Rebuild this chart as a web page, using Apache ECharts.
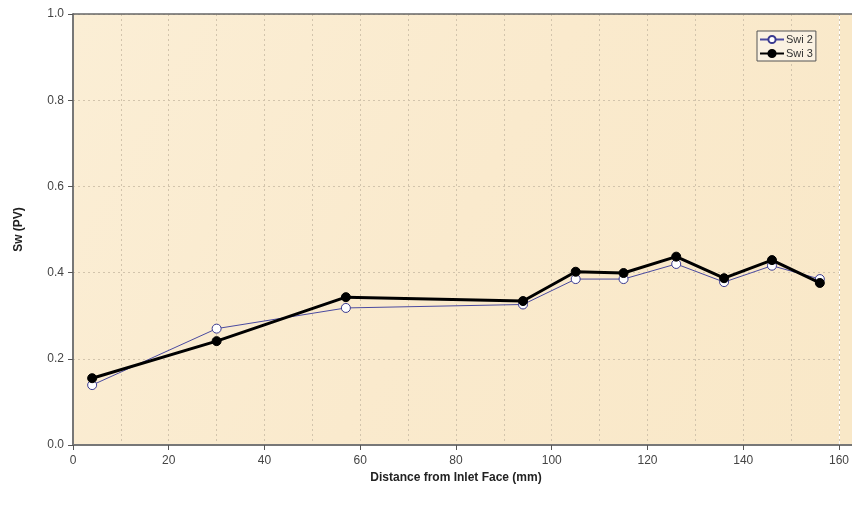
<!DOCTYPE html>
<html><head><meta charset="utf-8">
<script src="https://cdn.jsdelivr.net/npm/echarts@6/dist/echarts.min.js"></script>
<style>html,body{margin:0;padding:0;background:#fff}#c{width:852px;height:505px}</style>
</head><body><div id="c"></div>
<script>
const distance = [4, 30, 57, 94, 105, 115, 126, 136, 146, 156];
const swi2 = [0.139, 0.270, 0.318, 0.326, 0.385, 0.385, 0.420, 0.378, 0.416, 0.385];
const swi3 = [0.155, 0.241, 0.343, 0.334, 0.402, 0.399, 0.437, 0.387, 0.429, 0.376];
const xTicks = [0, 20, 40, 60, 80, 100, 120, 140, 160];
const yTicks = [0.0, 0.2, 0.4, 0.6, 0.8, 1.0];

const chart = echarts.init(document.getElementById('c'));
const font = 'Liberation Sans, Arial, sans-serif';
const bg = new echarts.graphic.LinearGradient(0, 0, 1, 1, [
  {offset: 0, color: '#fbeed5'}, {offset: 0.5, color: '#faeacd'}, {offset: 1, color: '#f9e8c8'}
]);
const gridCol = '#d2c4ac';
chart.setOption({
  animation: false,
  textStyle: {fontFamily: font},
  grid: {left: 73, right: 12, top: 14, bottom: 60, show: true, backgroundColor: bg, borderWidth: 0},
  graphic: [
    {type: 'rect', shape: {x: 840, y: 14, width: 12, height: 431}, style: {fill: '#f9e8c8'}, z: -1},
    {type: 'line', shape: {x1: 73, y1: 14, x2: 852, y2: 14}, style: {stroke: '#666', lineWidth: 1.5}, z: 10},
    {type: 'line', shape: {x1: 840, y1: 445, x2: 852, y2: 445}, style: {stroke: '#777', lineWidth: 2}, z: 10}
  ],
  legend: {
    orient: 'vertical', left: 757, top: 31, itemWidth: 24, itemHeight: 9, itemGap: 3,
    padding: [3, 3, 2, 2], borderColor: '#555', borderWidth: 1, backgroundColor: '#fbf2e2',
    textStyle: {fontSize: 11, color: '#333', fontFamily: font, padding: [0, 0, 0, -3]}
  },
  xAxis: {
    type: 'value', min: xTicks[0], max: xTicks[xTicks.length - 1], interval: 20,
    name: 'Distance from Inlet Face (mm)', nameLocation: 'middle', nameGap: 27,
    nameTextStyle: {fontWeight: 'bold', fontSize: 12, color: '#222'},
    axisLine: {lineStyle: {color: '#777', width: 2}},
    axisTick: {show: true, length: 5, lineStyle: {color: '#555'}},
    axisLabel: {color: '#444', fontSize: 12, margin: 10},
    splitLine: {show: true, lineStyle: {color: gridCol, type: [2, 3], width: 1}},
    minorTick: {show: false, splitNumber: 2},
    minorSplitLine: {show: true, lineStyle: {color: gridCol, type: [2, 3], width: 1}}
  },
  yAxis: {
    type: 'value', min: yTicks[0], max: yTicks[yTicks.length - 1], interval: 0.2,
    name: 'Sw (PV)', nameLocation: 'middle', nameGap: 48, nameRotate: 90,
    nameTextStyle: {fontWeight: 'bold', fontSize: 12, color: '#222'},
    axisLine: {show: true, lineStyle: {color: '#777', width: 2}},
    axisTick: {show: true, length: 5, lineStyle: {color: '#555'}},
    axisLabel: {color: '#444', fontSize: 12, margin: 9, formatter: v => v.toFixed(1)},
    splitLine: {show: true, lineStyle: {color: gridCol, type: [2, 3], width: 1}}
  },
  series: [
    {
      name: 'Swi 2', type: 'line', data: distance.map((d, i) => [d, swi2[i]]),
      symbol: 'circle', symbolSize: 9, showAllSymbol: true,
      lineStyle: {color: '#4a4aa0', width: 1},
      itemStyle: {color: '#ffffff', borderColor: '#3a3a90', borderWidth: 1},
      z: 2
    },
    {
      name: 'Swi 3', type: 'line', data: distance.map((d, i) => [d, swi3[i]]),
      symbol: 'circle', symbolSize: 9, showAllSymbol: true,
      lineStyle: {color: '#000', width: 3},
      itemStyle: {color: '#000', borderColor: '#000', borderWidth: 1},
      z: 3
    }
  ]
});
</script></body></html>
